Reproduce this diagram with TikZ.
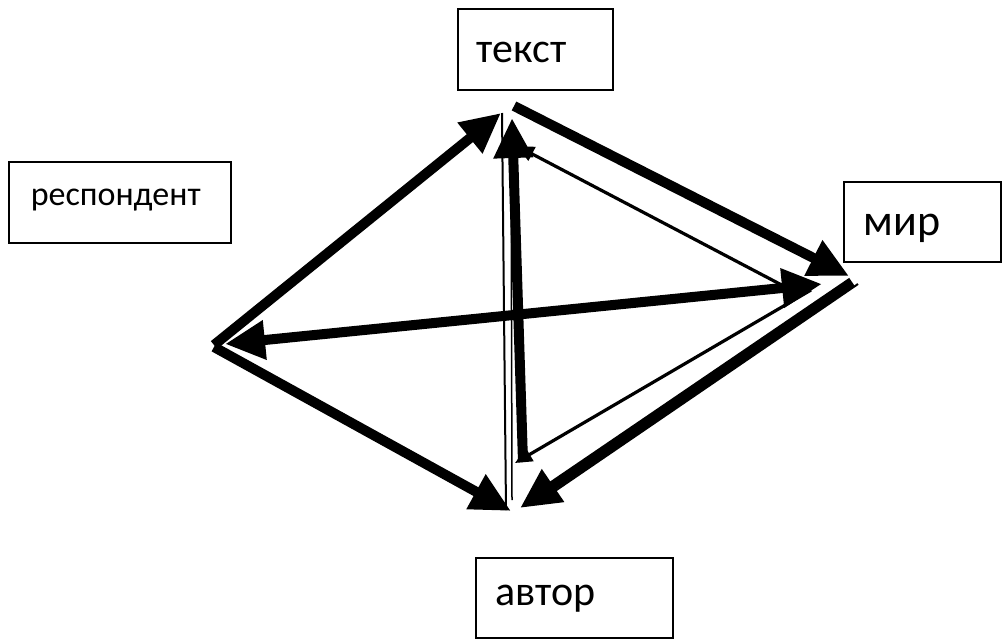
\documentclass[tikz,border=0pt]{standalone}
\usepackage{fontspec}
\setmainfont{Carlito}
\usetikzlibrary{arrows.meta,positioning}
\tikzset{
  box/.style={draw,line width=1.5pt,inner ysep=0pt,anchor=north west},
  bigarrow/.style={line width=10pt,-{Triangle[length=40pt,width=37pt]}},
  bigboth/.style={line width=10pt,{Triangle[length=40pt,width=37pt]}-{Triangle[length=40pt,width=37pt]}},
  thinarrow/.style={line width=3.2pt,-{Triangle[length=17pt,width=15pt]}},
  thinline/.style={line width=2pt}
}

\begin{document}
\begin{tikzpicture}[x=1pt,y=-1pt]
\useasboundingbox (0,0) rectangle (1003,640);
% labels in boxes
\node[box,font=\fontsize{42}{42}\selectfont,inner xsep=19pt,text height=54pt,text depth=27pt] (tekst) at (457,8) {\makebox[117pt][l]{текст}};
\node[box,font=\fontsize{34}{34}\selectfont,inner xsep=22pt,text height=44pt,text depth=37pt] (resp) at (8,161) {\makebox[178pt][l]{респондент}};
\node[box,font=\fontsize{44}{44}\selectfont,inner xsep=20pt,text height=54pt,text depth=26pt] (mir) at (843,181) {\makebox[117pt][l]{мир}};
\node[box,font=\fontsize{42}{42}\selectfont,inner xsep=20pt,text height=48pt,text depth=32pt] (avtor) at (475,557) {\makebox[157pt][l]{автор}};
% corners of the rhombus
\coordinate (L1) at (214,345);
\coordinate (L2) at (214,347);
\coordinate (Lh) at (225,344);
\coordinate (T1) at (501,113);
\coordinate (T2) at (514,106);
\coordinate (T3) at (517,146);
\coordinate (T4) at (512,118);
\coordinate (T5) at (502,113);
\coordinate (T6) at (511,125);
\coordinate (R1) at (849,276);
\coordinate (R2) at (795,292);
\coordinate (R3) at (822,284);
\coordinate (R4) at (852,282);
\coordinate (R5) at (811,290);
\coordinate (R6) at (858,284);
\coordinate (B1) at (511,511);
\coordinate (B2) at (523,462);
\coordinate (B3) at (506,510);
\coordinate (B4) at (512,500);
\coordinate (B5) at (520,508);
\coordinate (B6) at (515,463);
\coordinate (B7) at (536,504);
% thin lines
\draw[thinline] (T5) -- (B3);
\draw[line width=1.5pt] (B4) -- (T6);
\draw[thinline] (R6) -- (B7);
\draw[thinarrow] (R2) -- (T3);
\draw[thinarrow] (R5) -- (B6);
% thick arrows
\draw[bigarrow] (L1) -- (T1);
\draw[bigarrow] (L2) -- (B1);
\draw[bigboth] (R3) -- (Lh);
\draw[bigarrow] (T2) -- (R1);
\draw[bigarrow] (B2) -- (T4);
\draw[bigarrow] (R4) -- (B5);
\end{tikzpicture}
\end{document}
